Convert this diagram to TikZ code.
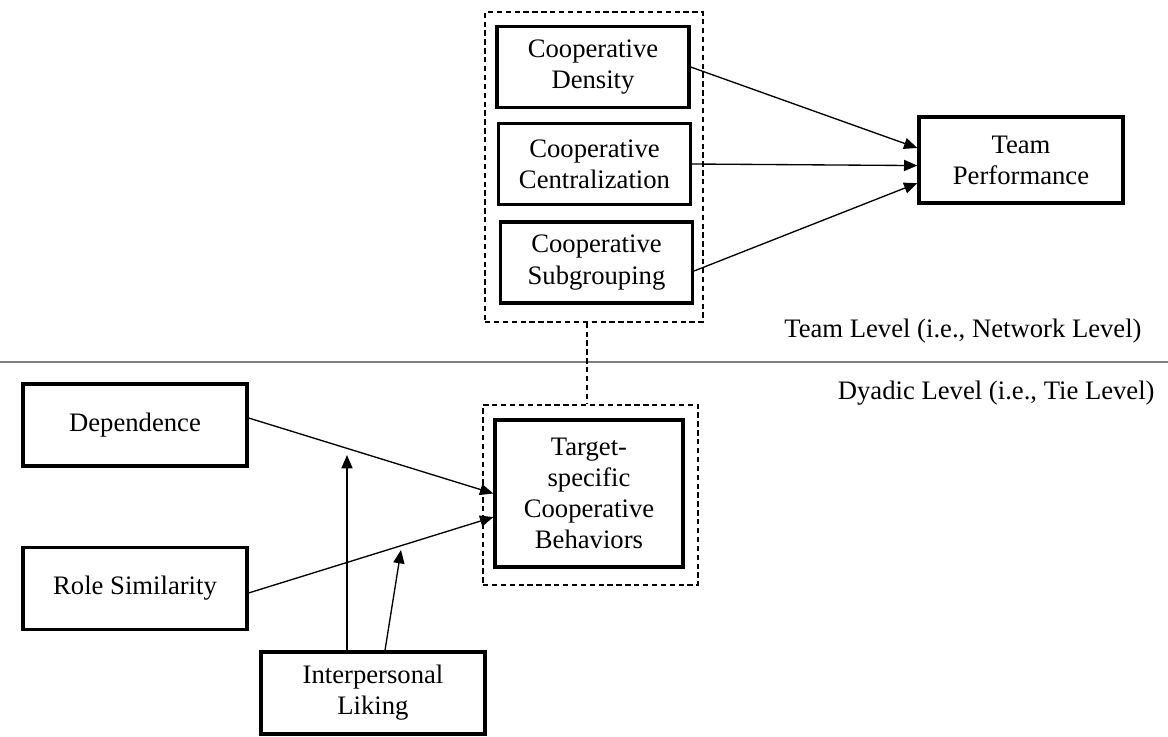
\documentclass[tikz,border=0pt]{standalone}
\usepackage{fontspec}
\setmainfont{Liberation Serif}
\usetikzlibrary{arrows.meta}

\begin{document}
\begin{tikzpicture}[x=0.45pt, y=-0.45pt,
        box/.style={draw, line width=1.5pt, align=center, inner sep=2pt,
            font=\fontsize{12pt}{14pt}\selectfont},
        frame/.style={draw, dashed, line width=0.6pt, dash pattern=on 2.4pt off 1.6pt},
        link/.style={line width=0.6pt, -{Triangle[length=6pt, width=5pt]}},
        lvl/.style={anchor=east, inner sep=0pt, font=\fontsize{12pt}{14pt}\selectfont}]
        \useasboundingbox (0, 0) rectangle (1168, 736);

        % team level
        \node[frame, minimum width=98.1pt, minimum height=139.5pt] (teamlvl) at (594, 167) {};
        \node[box, minimum width=86.4pt, minimum height=36.45pt] (dens) at (593, 67) {Cooperative\\Density};
        \node[box, minimum width=86.4pt, minimum height=36.45pt] (cent) at (594.5, 164) {Cooperative\\Centralization};
        \node[box, minimum width=86.4pt, minimum height=36.45pt] (subg) at (596.5, 262.5) {Cooperative\\Subgrouping};
        \node[box, minimum width=91.8pt, minimum height=38.7pt] (tp) at (1021, 160) {Team\\Performance};

        \draw[link] (dens.east) -- ([yshift=5.4pt]tp.west);
        \draw[link] (cent.east) -- ([yshift=-2.5pt]tp.west);
        \draw[link] ([yshift=-3.8pt]subg.east) -- ([yshift=-10.4pt]tp.west);

        % level divider
        \coordinate (divl) at (0, 362);
        \coordinate (divr) at (1168, 362);
        \draw[gray, line width=0.5pt] (divl) -- (divr);
        \node[lvl] (teamtxt) at (1142, 331) {Team Level (i.e., Network Level)};
        \node[lvl] (dyadtxt) at (1155, 393) {Dyadic Level (i.e., Tie Level)};

        % dyadic level
        \node[frame, minimum width=96.75pt, minimum height=81pt] (dyadlvl) at (590.5, 495) {};
        \node[box, minimum width=84.6pt, minimum height=66.15pt] (target) at (589, 493.5) {Target-\\specific\\Cooperative\\Behaviors};
        \node[box, minimum width=100.8pt, minimum height=36.9pt] (dep) at (135, 425) {Dependence};
        \node[box, minimum width=100.8pt, minimum height=36.9pt] (role) at (135, 588.5) {Role Similarity};
        \node[box, minimum width=100.8pt, minimum height=36.9pt] (liking) at (373, 693) {Interpersonal\\Liking};

        \draw[frame] ([xshift=-3.15pt]teamlvl.south) -- ([xshift=-3.15pt]teamlvl.south |- dyadlvl.north);

        \draw[link] ([yshift=3.15pt]dep.east) -- (target.west);
        \draw[link] ([yshift=-2pt]role.east) -- ([yshift=-10.6pt]target.west);

        \coordinate (m1) at (347, 455);
        \coordinate (m2) at (401, 550);
        \draw[link] (m1 |- liking.north) -- (m1);
        \draw[link] ([xshift=5.4pt]liking.north) -- (m2);
    \end{tikzpicture}
\end{document}
